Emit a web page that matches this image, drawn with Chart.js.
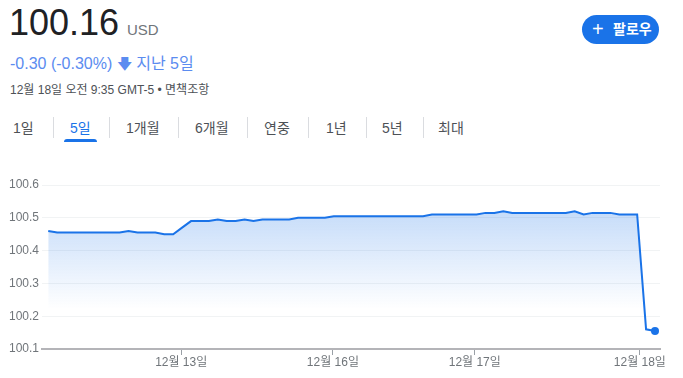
<!DOCTYPE html>
<html>
<head>
<meta charset="utf-8">
<script src="https://cdn.jsdelivr.net/npm/chart.js@4"></script>
<style>
  body { margin: 0; width: 683px; height: 378px; background: #fff; overflow: hidden;
         font-family: Arial, "Liberation Sans", "Noto Sans CJK KR", sans-serif; position: relative; }
  .abs { position: absolute; white-space: nowrap; }
  #price { left: 9px; top: 2px; font-size: 36px; color: #202124; }
  #cur { left: 127px; top: 21px; font-size: 15px; color: #70757a; }
  #chg { left: 10px; top: 50px; font-size: 16px; color: #5b8cf0; }
  #meta { left: 10px; top: 80px; font-size: 12px; color: #4d5156; }
  #follow { left: 582px; top: 15px; width: 77px; height: 29px; border-radius: 15px; background: #1a73e8;
            color: #fff; font-size: 14px; font-weight: bold; line-height: 29px; }
  .tab { top: 117px; font-size: 14px; color: #4d5156; }
  .sep { top: 117px; width: 1px; height: 21px; background: #dadce0; }
  #uline { left: 64px; top: 139px; width: 33px; height: 3px; background: #1a73e8; border-radius: 3px 3px 0 0; }
  #wrap { position: absolute; left: 0; top: 170px; width: 683px; height: 208px; }
</style>
</head>
<body>
<div class="abs" id="price">100.16</div>
<div class="abs" id="cur">USD</div>
<div class="abs" id="chg">-0.30 (-0.30%) <span style="font-size:15px">&#129095;</span> 지난 5일</div>
<div class="abs" id="meta">12월 18일 오전 9:35 GMT-5 • 면책조항</div>
<div class="abs" id="follow"><span style="position:absolute;left:10px;font-size:20px;font-weight:normal">+</span><span style="position:absolute;left:31px">팔로우</span></div>

<div class="abs tab" style="left:13px">1일</div>
<div class="abs tab" style="left:70px;color:#1a73e8">5일</div>
<div class="abs tab" style="left:126px">1개월</div>
<div class="abs tab" style="left:195px">6개월</div>
<div class="abs tab" style="left:264px">연중</div>
<div class="abs tab" style="left:326px">1년</div>
<div class="abs tab" style="left:382px">5년</div>
<div class="abs tab" style="left:438px">최대</div>
<div class="abs sep" style="left:53px"></div>
<div class="abs sep" style="left:109px"></div>
<div class="abs sep" style="left:178px"></div>
<div class="abs sep" style="left:247px"></div>
<div class="abs sep" style="left:308px"></div>
<div class="abs sep" style="left:366px"></div>
<div class="abs sep" style="left:423px"></div>
<div class="abs" id="uline"></div>

<div id="wrap"><canvas id="c"></canvas></div>

<script>
// 5일 가격 (대략 읽은 값)
const values = [
  100.46, 100.455, 100.455, 100.455, 100.455, 100.455, 100.455, 100.455, 100.455, 100.46,
  100.455, 100.455, 100.455, 100.45, 100.45, 100.47, 100.49, 100.49, 100.49, 100.495,
  100.49, 100.49, 100.495, 100.49, 100.495, 100.495, 100.495, 100.495, 100.50, 100.50,
  100.50, 100.50, 100.505, 100.505, 100.505, 100.505, 100.505, 100.505, 100.505, 100.505,
  100.505, 100.505, 100.505, 100.51, 100.51, 100.51, 100.51, 100.51, 100.51, 100.515,
  100.515, 100.52, 100.515, 100.515, 100.515, 100.515, 100.515, 100.515, 100.515, 100.52,
  100.51, 100.515, 100.515, 100.515, 100.51, 100.51, 100.51, 100.16, 100.155
];
const dayLabels = ['12월 13일', '12월 16일', '12월 17일', '12월 18일'];
const dayStarts = [14.9, 31.9, 47.8, 66.3];
const yTicks = [100.1, 100.2, 100.3, 100.4, 100.5, 100.6];

const points = values.map((v, i) => ({ x: i, y: v }));
const lastIdx = values.length - 1;
const blue = '#1a73e8';
const tickFont = { family: 'Arial, "Liberation Sans", "Noto Sans CJK KR", sans-serif', size: 12 };

new Chart(document.getElementById('c'), {
  type: 'line',
  data: {
    datasets: [{
      data: points,
      borderColor: blue,
      borderWidth: 2,
      tension: 0,
      fill: 'start',
      backgroundColor: (ctx) => {
        const area = ctx.chart.chartArea;
        if (!area) return 'rgba(26,115,232,0.15)';
        const g = ctx.chart.ctx.createLinearGradient(0, area.top + 30, 0, area.bottom - 40);
        g.addColorStop(0, 'rgba(26,115,232,0.24)');
        g.addColorStop(1, 'rgba(26,115,232,0)');
        return g;
      },
      pointRadius: (ctx) => ctx.dataIndex === lastIdx ? 4 : 0,
      pointBackgroundColor: blue,
      pointBorderWidth: 0
    }]
  },
  options: {
    responsive: true,
    maintainAspectRatio: false,
    animation: false,
    layout: { padding: { top: 15, right: 23, left: 0, bottom: 0 } },
    plugins: { legend: { display: false }, tooltip: { enabled: false } },
    scales: {
      x: {
        type: 'linear',
        min: -0.7,
        max: 68.56,
        afterBuildTicks: (s) => { s.ticks = dayStarts.map(v => ({ value: v })); },
        afterFit: (s) => { s.height = 29; },
        ticks: {
          autoSkip: false,
          maxRotation: 0,
          padding: 0,
          color: '#70757a',
          font: tickFont,
          callback: (v) => dayLabels[dayStarts.indexOf(v)]
        },
        grid: { drawOnChartArea: false, drawTicks: true, tickLength: 6, color: '#9aa0a6' },
        border: { color: '#b4b4b8', width: 2 }
      },
      y: {
        min: 100.1,
        max: 100.6,
        afterBuildTicks: (s) => { s.ticks = yTicks.map(v => ({ value: v })); },
        afterFit: (s) => { s.width = 42; },
        ticks: { padding: 3, color: '#70757a', font: tickFont, callback: (v) => v.toFixed(1) },
        grid: { color: '#f1f3f4', drawTicks: false },
        border: { display: false }
      }
    }
  }
});
</script>
</body>
</html>
